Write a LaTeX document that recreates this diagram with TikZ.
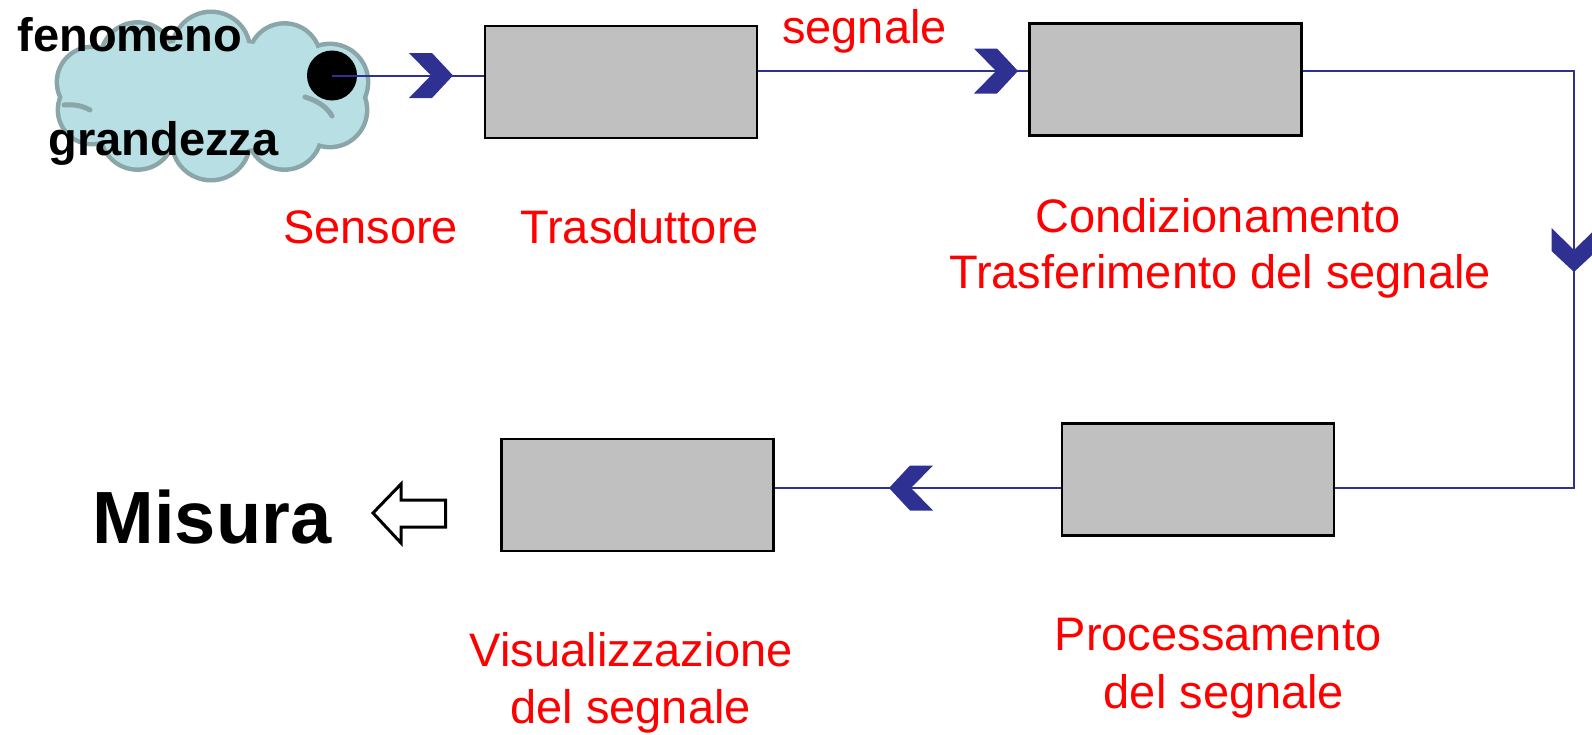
\documentclass[tikz,border=0pt]{standalone}
\usepackage{fontspec}
\setmainfont{Liberation Sans}
\definecolor{navy}{RGB}{46,49,146}
\definecolor{cloudfill}{RGB}{184,223,227}
\definecolor{cloudline}{RGB}{138,166,168}
\definecolor{boxgray}{RGB}{192,192,192}

\begin{document}
\begin{tikzpicture}[x=1pt,y=-1pt,
  block/.style={draw=black, line width=2.5pt, fill=boxgray,
    minimum width=272pt, minimum height=112pt, inner sep=0pt},
  flow/.style={draw=navy, line width=2pt},
  lbl/.style={text=red, font=\fontsize{47}{56}\selectfont, anchor=base, inner sep=0pt},
  blk/.style={font=\bfseries\fontsize{47}{56}\selectfont, anchor=base, inner sep=0pt},
  chev/.pic={\fill[navy] (0,0) -- (-21,-22.5) -- (-44,-22.5) -- (-22,0)
     -- (-44,22.5) -- (-21,22.5) -- cycle;}
]
\useasboundingbox (0,0) rectangle (1592,734);

% source: the phenomenon cloud (union of puffs: outline pass, then fill pass)
\foreach \a/\r in {18/36,54/34,90/37,126/35,162/33,198/32,234/35,270/37,306/35,342/35}
  \draw[cloudline, line width=9pt] ({211+125*cos(\a)},{96-45*sin(\a)}) circle (\r);
\foreach \a/\r in {18/36,54/34,90/37,126/35,162/33,198/32,234/35,270/37,306/35,342/35}
  \fill[cloudfill] ({211+125*cos(\a)},{96-45*sin(\a)}) circle (\r);
\fill[cloudfill] (211,96) ellipse (130 and 55);
% inner folds of the puffs
\draw[cloudline, line width=5pt, line cap=round] (64,105) .. controls (74,104) and (83,106) .. (90,110);
\draw[cloudline, line width=5pt, line cap=round] (305,97) .. controls (318,101) and (327,107) .. (332,116);
\node[circle, fill=black, minimum size=50pt, inner sep=0pt] (dot) at (332,75.5) {};
\node[blk] (fen) at (130,51) {fenomeno};
\node[blk] (gra) at (163.5,155) {grandezza};

% processing blocks
\node[block] (box1) at (621,82) {};
\node[block] (box2) at (1165.5,79.5) {};
\node[block] (box3) at (1198,479.5) {};
\node[block] (box4) at (637.5,495) {};

% signal path
\coordinate (turnA) at (1574,71);
\coordinate (turnB) at (1574,488);
\draw[flow] (dot.center) -- (box1.west |- dot.center);
\draw[flow] (box1.east |- turnA) -- (box2.west |- turnA);
\draw[flow] (box2.east |- turnA) -- (turnA) -- (turnB) -- (box3.east |- turnB);
\draw[flow] (box3.west |- turnB) -- (box4.east |- turnB);

\pic at (453,75.5) {chev};
\pic at (1018,71) {chev};
\pic[rotate=-90] at (1574,272) {chev};
\pic[rotate=180] at (889,488) {chev};

% labels
\node[lbl] (lsig) at (864.5,43) {segnale};
\node[lbl] (lsen) at (370.6,243) {Sensore};
\node[lbl] (ltra) at (639.6,243) {Trasduttore};
\node[lbl] (lcon) at (1218,232) {Condizionamento};
\node[lbl] (ltrf) at (1220,288) {Trasferimento del segnale};
\node[lbl] (lpro) at (1218,650) {Processamento};
\node[lbl] (lpro2) at (1224,708) {del segnale};
\node[lbl] (lvis) at (631.5,666) {Visualizzazione};
\node[lbl] (lvis2) at (630.6,723) {del segnale};

% output
\node[font=\bfseries\fontsize{74}{80}\selectfont, anchor=base, inner sep=0pt] (mis) at (212,543) {Misura};
\draw[line width=3pt, fill=white, line join=miter]
  (373,513) -- (401,484) -- (401,500) -- (445.5,500) -- (445.5,527)
  -- (401,527) -- (401,543) -- cycle;
\end{tikzpicture}
\end{document}
